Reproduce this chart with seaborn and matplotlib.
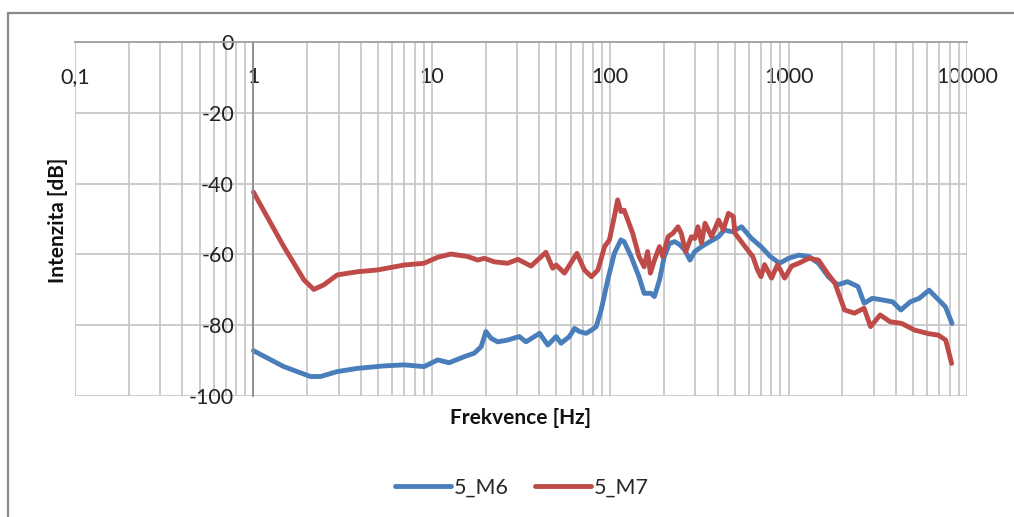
import matplotlib
matplotlib.use("Agg")
import matplotlib.pyplot as plt
from matplotlib.lines import Line2D
from matplotlib.ticker import FixedLocator, LogLocator, NullFormatter
import seaborn as sns
import pandas as pd

# ---- data ----
f_m6 = [1.0, 1.48, 2.09, 2.38, 2.95, 3.83, 5.40, 6.99, 9.05, 10.8, 12.5, 15.2, 17.3, 18.9,
        20.1, 21.5, 23.4, 26.6, 30.9, 33.7, 40.2, 44.7, 49.8, 53.0, 59.1, 63.1, 67.3, 73.3,
        78.5, 83.5, 89.0, 96.9, 105.5, 114.8, 119.7, 131, 145, 155, 169, 177, 189, 201, 215,
        230, 246, 262, 280, 298, 325, 362, 405, 436, 482, 545, 620, 700, 790, 890, 1000,
        1140, 1300, 1470, 1670, 1880, 2140, 2450, 2650, 2950, 3380, 3830, 4260, 4810, 5400,
        6130, 6640, 7570, 8240]
db_m6 = [-87.2, -91.7, -94.5, -94.5, -93.1, -92.2, -91.5, -91.2, -91.7, -89.8, -90.6, -88.9,
         -87.9, -86.1, -81.8, -83.7, -84.7, -84.2, -83.2, -84.7, -82.3, -85.6, -83.2, -85.1,
         -83.2, -80.9, -81.8, -82.3, -81.4, -80.4, -75.7, -67.2, -59.7, -55.9, -56.4, -60.6,
         -66.3, -71.0, -71.0, -71.9, -67.2, -60.6, -56.9, -56.4, -57.3, -58.8, -61.6, -59.2,
         -57.8, -56.4, -55.0, -53.1, -53.6, -52.2, -55.5, -57.8, -60.6, -62.5, -61.1, -60.2,
         -60.6, -62.5, -66.3, -68.6, -67.7, -69.1, -73.8, -72.4, -72.9, -73.4, -75.7, -73.4,
         -72.4, -70.1, -71.9, -74.8, -79.5]

f_m7 = [1.0, 1.48, 1.92, 2.18, 2.48, 2.95, 3.83, 4.95, 6.99, 9.05, 10.8, 12.8, 15.9, 18.1,
        19.7, 22.4, 26.6, 30.4, 36.0, 43.6, 47.6, 49.8, 55.4, 65.1, 71.7, 78.5, 85.3, 93.0,
        99.0, 105.5, 110.1, 114.8, 119.7, 133.6, 145, 155, 162, 168, 177, 189, 197, 211, 225,
        240, 250, 265, 285, 298, 310, 325, 340, 370, 405, 430, 460, 490, 500, 570, 630, 670,
        700, 733, 802, 867, 950, 1040, 1140, 1300, 1470, 1650, 1820, 2060, 2340, 2650, 2880,
        3260, 3700, 4300, 5100, 6100, 6900, 7600, 8200]
db_m7 = [-42.4, -57.8, -67.2, -69.9, -68.6, -65.8, -64.9, -64.4, -63.0, -62.5, -60.8, -59.9,
         -60.6, -61.6, -61.1, -62.1, -62.5, -61.4, -63.3, -59.4, -63.9, -63.0, -65.3, -59.7,
         -64.4, -66.3, -64.4, -57.8, -55.9, -49.3, -44.6, -47.9, -47.5, -54.0, -60.6, -63.5,
         -59.2, -65.3, -61.6, -57.8, -60.6, -55.0, -54.0, -52.2, -54.0, -59.2, -55.0, -55.5,
         -52.2, -56.8, -51.2, -55.0, -50.3, -53.1, -48.4, -49.3, -54.0, -57.8, -60.6, -64.4,
         -66.3, -62.9, -66.7, -62.9, -66.7, -63.3, -62.5, -61.1, -61.6, -65.3, -68.2, -75.7,
         -76.6, -75.2, -80.4, -77.1, -79.0, -79.5, -81.4, -82.4, -82.8, -84.2, -90.8]

series_names = ["5_M6", "5_M7"]
x_ticks = [0.1, 1, 10, 100, 1000, 10000]
x_tick_labels = ["0,1", "1", "10", "100", "1000", "10000"]
y_ticks = [-100, -80, -60, -40, -20, 0]

df = pd.concat([
    pd.DataFrame({"f": f_m6, "dB": db_m6, "series": series_names[0]}),
    pd.DataFrame({"f": f_m7, "dB": db_m7, "series": series_names[1]}),
], ignore_index=True)

sns.set_theme(style="white")
plt.rcParams["font.family"] = ["Lato", "DejaVu Sans"]

fig = plt.figure(figsize=(10.14, 5.17), dpi=100)
ax = fig.add_axes([75 / 1014, 1 - 396 / 517, (967 - 75) / 1014, (396 - 42) / 517])

palette = {"5_M6": "#4A7EBB", "5_M7": "#BE4B48"}
sns.lineplot(data=df, x="f", y="dB", hue="series", palette=palette, sort=False,
             estimator=None, linewidth=3.5, ax=ax, legend=True)

ax.set_xscale("log")
ax.set_xlim(0.1, 10000)
ax.set_ylim(-100, 0)

grid_c = "#c4c4c4"
ax.xaxis.set_major_locator(FixedLocator(x_ticks))
ax.set_xticklabels(x_tick_labels)
ax.xaxis.set_minor_locator(LogLocator(base=10, subs=range(2, 10)))
ax.xaxis.set_minor_formatter(NullFormatter())
ax.set_yticks(y_ticks)
ax.set_yticklabels([str(v) for v in y_ticks])
ax.grid(True, which="major", axis="both", color=grid_c, linewidth=1.2)
ax.grid(True, which="minor", axis="x", color=grid_c, linewidth=1.2)
ax.set_axisbelow(True)

for s in ["top", "right"]:
    ax.spines[s].set_visible(False)
ax.spines["left"].set_position(("data", 1))
ax.spines["bottom"].set_position(("data", 0))
ax.spines["left"].set_color("#8c8c8c")
ax.spines["bottom"].set_color("#a0a0a0")
ax.spines["left"].set_linewidth(1.3)
ax.spines["bottom"].set_linewidth(1.3)

ax.tick_params(axis="x", which="both", length=0, pad=18, labelsize=15.5, colors="#222222")
ax.tick_params(axis="y", which="both", length=0, pad=14, labelsize=15.5, colors="#222222")

ax.set_xlabel("")
ax.set_ylabel("")
fig.text(521 / 1014, 1 - 418 / 517, "Frekvence [Hz]", ha="center", va="center",
         fontsize=15, fontweight="bold", color="#111111")
fig.text(58 / 1014, 1 - 220 / 517, "Intenzita [dB]", ha="center", va="center",
         rotation=90, fontsize=15, fontweight="bold", color="#111111")

ax.get_legend().remove()
handles = [Line2D([0], [0], color=palette[n], linewidth=3.5) for n in series_names]
fig.legend(handles, series_names, loc="center", bbox_to_anchor=(522 / 1014, 1 - 488 / 517),
           ncol=2, frameon=False, fontsize=15.5, handlelength=2.6, columnspacing=1.2,
           handletextpad=0.15)

# chart area border (top and left edges visible in reference)
fig.add_artist(Line2D([8 / 1014, 1.0], [1 - 13 / 517, 1 - 13 / 517], color="#8a8a8a",
                      linewidth=1.6, transform=fig.transFigure))
fig.add_artist(Line2D([8 / 1014, 8 / 1014], [0.0, 1 - 13 / 517], color="#8a8a8a",
                      linewidth=1.6, transform=fig.transFigure))

fig.savefig("out.png", dpi=100)
